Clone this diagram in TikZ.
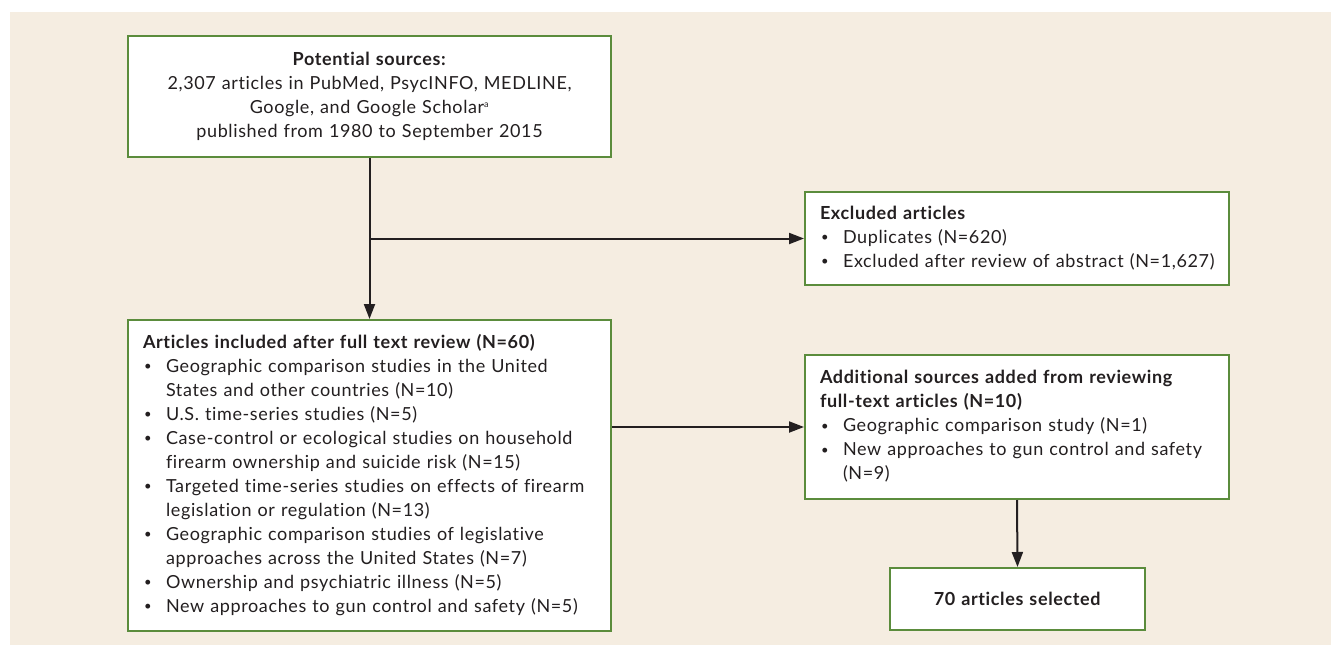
\documentclass[tikz,border=0pt]{standalone}
\usepackage{fontspec}
\setmainfont{Lato}[LetterSpace=3.5,Ligatures={NoCommon}]
\usetikzlibrary{arrows.meta,calc}
\definecolor{bgbeige}{HTML}{F5EDE1}
\definecolor{boxgreen}{HTML}{5B8C3C}
\definecolor{ink}{HTML}{231F20}
\newcommand{\blt}{\makebox[23pt][l]{\hspace{1pt}\raisebox{1.6pt}{\fontsize{13}{13}\selectfont\textbullet}}}
\begin{document}
\begin{tikzpicture}[x=1pt,y=-1pt,
  font=\fontsize{18}{24}\selectfont,
  flowbox/.style={draw=boxgreen,line width=2pt,fill=white,anchor=north west,
    inner xsep=15pt,inner ysep=0pt,text=ink,align=left},
  conn/.style={draw=ink,line width=2pt,-{Triangle[length=15pt,width=11pt]}}]
\useasboundingbox (0,0) rectangle (1331,645);
\fill[bgbeige] (10,12) rectangle (1331,645);
\node[flowbox,align=center,minimum width=483pt,minimum height=121pt,text width=453pt] (src) at (127,35)
 {\textbf{Potential sources:}\\
  2,307 articles in PubMed, PsycINFO, MEDLINE,\\
  Google, and Google Scholar\textsuperscript{\fontsize{9}{9}\selectfont a}\\
  published from 1980 to September 2015};
\node[flowbox,minimum width=424pt,minimum height=93pt,text width=394pt] (excl) at (804,191)
 {\begin{tabular}{@{}l@{}l@{}}
  \multicolumn{2}{@{}l}{\textbf{Excluded articles}}\\
  \blt & Duplicates (N=620)\\
  \blt & Excluded after review of abstract (N=1,627)
  \end{tabular}};
\node[flowbox,minimum width=483pt,minimum height=311pt,text width=453pt] (incl) at (127,319)
 {\begin{tabular}{@{}l@{}l@{}}
  \multicolumn{2}{@{}l}{\textbf{Articles included after full text review (N=60)}}\\
  \blt & Geographic comparison studies in the United\\
       & States and other countries (N=10)\\
  \blt & U.S. time-series studies (N=5)\\
  \blt & Case-control or ecological studies on household\\
       & firearm ownership and suicide risk (N=15)\\
  \blt & Targeted time-series studies on effects of firearm\\
       & legislation or regulation (N=13)\\
  \blt & Geographic comparison studies of legislative\\
       & approaches across the United States (N=7)\\
  \blt & Ownership and psychiatric illness (N=5)\\
  \blt & New approaches to gun control and safety (N=5)
  \end{tabular}};
\node[flowbox,minimum width=424pt,minimum height=144pt,text width=394pt] (add) at (804,354)
 {\begin{tabular}{@{}l@{}l@{}}
  \multicolumn{2}{@{}l}{\textbf{Additional sources added from reviewing}}\\
  \multicolumn{2}{@{}l}{\textbf{full-text articles (N=10)}}\\
  \blt & Geographic comparison study (N=1)\\
  \blt & New approaches to gun control and safety\\
       & (N=9)
  \end{tabular}};
\node[flowbox,align=center,minimum width=255pt,minimum height=62pt,text width=225pt] (sel) at (889,567)
 {\textbf{70 articles selected}};
\coordinate (split) at (src.south |- excl.west);
\draw[conn] (src.south) -- (incl.north);
\draw[conn] (split) -- (excl.west);
\draw[conn] (add.west -| incl.east) -- (add.west);
\draw[conn] (add.south) -- (sel.north);
\end{tikzpicture}
\end{document}
